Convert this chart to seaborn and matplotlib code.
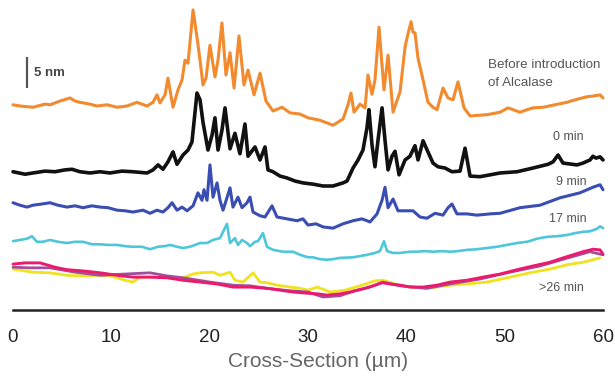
import numpy as np
import pandas as pd
import matplotlib
matplotlib.use("Agg")
import matplotlib.pyplot as plt
import seaborn as sns

# ---------------- data (x in µm, height in nm) ----------------
before_x = [0, 0.71, 2.03, 3.25, 3.76, 4.78, 5.80, 6.31, 6.81, 7.83, 8.54, 9.56, 10.58, 11.59, 12.61,
            13.63, 14.24, 14.64, 14.95, 15.46, 15.76, 16.27, 16.78, 17.19, 17.49, 17.80, 18.31, 18.71,
            19.02, 19.32, 19.63, 20.03, 20.54, 20.85, 21.25, 21.66, 22.07, 22.48, 22.98, 23.49, 23.90,
            24.51, 25.12, 25.73, 26.44, 27.36, 28.17, 29.19, 30.00, 31.22, 32.54, 33.56, 34.07, 34.37,
            34.68, 35.29, 35.80, 36.10, 36.51, 36.81, 37.22, 37.73, 38.14, 38.65, 39.36, 39.87, 40.07,
            40.48, 40.68, 40.88, 41.19, 41.70, 42.20, 42.71, 43.12, 43.73, 44.24, 44.75, 45.25, 45.87,
            46.48, 48.20, 49.53, 50.34, 51.56, 52.27, 52.88, 53.90, 55.12, 56.34, 57.15, 58.37, 58.98,
            59.70, 60.00]
before_y = [33.1, 32.9, 32.7, 33.2, 33.1, 33.7, 34.2, 33.7, 33.5, 33.2, 32.9, 33.1, 32.7, 32.9, 33.5,
            32.9, 33.5, 34.7, 33.4, 34.7, 37.4, 32.7, 35.5, 37.1, 40.3, 39.8, 48.4, 44.0,
            40.3, 36.3, 37.4, 42.7, 37.6, 40.3, 46.3, 37.9, 41.5, 35.8, 44.2, 36.3, 38.7,
            34.7, 38.2, 33.7, 32.1, 32.7, 31.8, 31.6, 31.0, 30.6, 29.8, 30.8, 33.1, 35.0,
            31.9, 33.2, 32.6, 37.9, 34.8, 37.1, 45.6, 35.5, 41.1, 31.9, 35.2, 42.4, 43.9,
            46.5, 44.8, 44.7, 40.6, 37.1, 33.5, 32.7, 32.3, 35.8, 34.2, 33.9, 36.8, 32.6,
            31.3, 31.5, 31.9, 32.6, 31.9, 32.3, 32.6, 32.7, 33.1, 33.5, 33.9, 34.4, 34.5,
            34.7, 34.2]

min0_x = [0, 1.22, 2.03, 3.25, 4.27, 5.29, 6.00, 6.81, 7.83, 8.85, 9.86, 11.08, 12.20, 13.63, 14.24,
          14.75, 15.25, 15.76, 16.27, 16.68, 17.29, 17.80, 18.20, 18.71, 19.02, 19.32, 19.83, 20.24,
          20.54, 20.85, 21.25, 21.56, 22.07, 22.57, 23.08, 23.59, 23.90, 24.61, 25.12, 25.63, 25.93,
          26.44, 27.15, 27.86, 28.68, 29.49, 30.51, 31.53, 32.54, 33.56, 33.97, 34.58, 35.09, 35.59,
          36.00, 36.20, 36.51, 36.81, 37.12, 37.53, 37.83, 38.14, 38.54, 38.85, 39.26, 39.87, 40.37,
          40.88, 41.19, 41.70, 42.20, 42.71, 43.22, 43.93, 44.64, 45.46, 45.97, 46.48, 47.49, 48.51,
          49.53, 51.26, 52.88, 54.41, 54.92, 55.43, 55.93, 57.36, 57.97, 58.68, 58.98, 59.29, 59.70,
          60.00]
min0_y = [22.3, 21.9, 22.1, 22.4, 22.3, 22.6, 22.7, 22.3, 22.1, 22.3, 22.1, 22.4, 22.3, 22.1, 22.6,
          23.4, 22.7, 23.9, 25.5, 23.5, 25.0, 25.8, 27.1, 35.0, 33.9, 30.3, 25.8, 28.2,
          31.0, 25.8, 29.0, 32.6, 26.0, 28.5, 25.2, 30.0, 24.8, 26.3, 24.2, 26.3, 22.6,
          22.3, 21.6, 21.3, 20.8, 20.5, 20.3, 20.0, 20.0, 20.5, 20.8, 22.9, 24.2, 25.8,
          29.4, 32.3, 26.6, 23.1, 27.4, 32.6, 27.4, 22.6, 24.8, 25.6, 21.8, 24.2, 24.8,
          26.5, 24.2, 27.3, 25.5, 23.7, 23.1, 22.9, 22.3, 22.4, 26.1, 21.6, 21.5, 21.8,
          22.1, 22.3, 22.9, 23.5, 23.9, 25.0, 23.7, 23.4, 23.7, 24.2, 24.8, 24.5, 24.7,
          24.2]

min9_x = [0, 0.71, 1.42, 2.03, 2.95, 3.76, 4.58, 5.49, 6.31, 7.12, 8.03, 8.85, 9.66, 10.58, 11.39,
          12.20, 13.22, 13.93, 14.64, 15.25, 15.76, 16.17, 16.68, 17.19, 17.70, 18.31, 18.81, 19.22,
          19.42, 19.73, 20.03, 20.34, 20.75, 21.05, 21.36, 21.76, 22.07, 22.37, 22.88, 23.29, 23.80,
          24.10, 24.41, 25.12, 25.63, 26.34, 26.85, 27.86, 28.88, 29.49, 30.00, 30.81, 31.53, 32.54,
          33.56, 34.58, 35.49, 36.31, 37.02, 37.53, 37.83, 38.14, 38.65, 39.15, 39.87, 40.68, 41.39,
          42.10, 42.92, 43.73, 44.24, 44.64, 45.15, 46.17, 47.19, 48.51, 49.53, 51.56, 53.59, 55.63,
          57.66, 58.98, 59.70, 60.00]
min9_y = [17.3, 16.9, 16.6, 16.9, 17.1, 17.3, 16.9, 16.6, 16.8, 16.5, 16.8, 16.6, 16.5, 16.1, 16.0,
          15.8, 16.1, 15.6, 16.1, 15.8, 16.5, 17.3, 16.1, 16.6, 16.0, 16.8, 18.9, 17.7,
          19.4, 17.7, 23.4, 18.2, 20.5, 17.7, 16.1, 18.1, 19.7, 16.6, 18.2, 16.5, 17.3,
          18.2, 15.8, 15.2, 15.0, 16.8, 15.0, 14.7, 14.4, 14.7, 13.7, 13.9, 13.4, 13.2,
          13.9, 14.4, 14.7, 14.2, 15.5, 17.7, 19.8, 16.5, 17.9, 16.0, 16.0, 16.0, 15.0,
          14.8, 15.6, 15.3, 16.5, 17.1, 15.5, 15.5, 15.3, 15.5, 15.6, 16.5, 16.9, 18.1,
          18.9, 19.8, 20.2, 19.4]

min17_x = [0, 0.71, 1.42, 1.93, 2.44, 3.05, 3.76, 4.58, 5.49, 6.31, 7.12, 8.03, 8.85, 9.66, 10.58,
           11.39, 12.20, 13.12, 13.93, 14.75, 15.46, 15.97, 16.68, 17.29, 18.00, 19.02, 19.73, 20.34,
           21.05, 21.76, 22.07, 22.57, 22.88, 23.29, 23.80, 24.10, 24.61, 24.92, 25.42, 25.83, 26.44,
           27.46, 28.48, 29.19, 30.00, 30.51, 31.22, 31.93, 32.54, 33.25, 34.58, 36.00, 36.81, 37.32,
           37.73, 38.04, 38.65, 39.36, 40.37, 41.08, 41.90, 42.71, 43.63, 44.44, 45.25, 46.17, 47.19,
           48.20, 49.22, 50.24, 51.26, 52.27, 53.29, 54.31, 55.32, 56.34, 57.15, 57.97, 58.68, 59.39,
           59.70, 60.00]
min17_y = [11.1, 11.3, 11.5, 11.9, 11.0, 11.0, 11.3, 11.0, 10.8, 11.0, 11.0, 10.6, 10.6, 10.5, 10.5,
           10.3, 10.2, 10.2, 9.8, 10.2, 10.3, 10.5, 10.2, 10.0, 10.2, 10.8, 10.8, 11.3,
           11.6, 13.9, 10.8, 11.6, 10.5, 11.3, 10.8, 10.3, 11.0, 11.1, 12.4, 10.2, 9.7,
           9.4, 9.4, 8.9, 8.5, 8.5, 8.2, 8.1, 8.2, 8.4, 8.5, 8.9, 9.2, 9.5,
           11.1, 9.5, 9.2, 9.2, 9.4, 9.4, 9.5, 9.4, 9.5, 9.4, 9.5, 9.7, 9.8,
           10.0, 10.2, 10.5, 10.8, 11.0, 11.5, 11.8, 11.9, 12.1, 12.4, 12.6, 12.7, 13.1,
           13.5, 13.2]

late_pink_x = [0, 1.22, 2.75, 4.27, 5.49, 7.12, 8.85, 10.58, 12.20, 13.93, 15.66, 17.29, 19.02, 20.75,
               22.37, 24.10, 25.83, 27.15, 28.48, 30.00, 31.02, 31.93, 33.25, 34.27, 35.80, 36.81,
               37.53, 38.34, 39.36, 40.37, 41.70, 43.12, 44.44, 46.17, 47.80, 49.53, 51.26, 52.88,
               54.61, 55.93, 56.95, 57.97, 58.98, 59.70, 60.00]
late_pink_y = [7.4, 7.6, 7.6, 6.9, 6.5, 6.3, 6.0, 5.6, 5.3, 5.3, 5.2, 4.8, 4.5, 4.2,
               3.7, 3.7, 3.5, 3.2, 2.9, 2.7, 2.6, 2.4, 2.6, 2.9, 3.5, 4.0,
               4.4, 4.2, 4.0, 3.7, 3.7, 4.0, 4.5, 4.8, 5.3, 5.8, 6.5, 7.1,
               7.7, 8.4, 8.9, 9.4, 9.8, 9.7, 9.0]

late_purple_x = [0, 1.73, 3.76, 6.31, 8.85, 11.39, 13.93, 15.66, 17.29, 20.03, 22.37, 24.10, 25.83,
                 28.17, 30.00, 31.53, 33.25, 34.78, 36.31, 37.63, 39.36, 42.10, 44.44, 47.49, 50.54,
                 53.59, 56.65, 58.68, 60.00]
late_purple_y = [6.9, 6.8, 6.8, 6.1, 5.6, 5.8, 6.0, 5.5, 5.2, 4.5, 4.0, 3.9, 3.5,
                 3.1, 2.9, 2.1, 2.3, 3.1, 3.7, 4.5, 3.9, 3.5, 4.2, 5.0, 6.1,
                 7.1, 8.5, 9.4, 8.9]

late_yellow_x = [0, 2.03, 3.76, 5.49, 7.12, 8.85, 9.86, 10.58, 11.39, 12.20, 12.92, 13.93, 15.66,
                 17.29, 18.31, 19.02, 20.34, 21.05, 22.07, 22.57, 23.39, 24.41, 25.12, 25.83, 26.85,
                 28.17, 29.19, 30.00, 30.92, 32.24, 33.76, 35.29, 36.81, 37.63, 38.85, 40.37, 42.10,
                 44.44, 46.17, 48.20, 50.54, 52.57, 54.61, 56.34, 57.97, 59.70]
late_yellow_y = [6.6, 6.1, 6.0, 5.6, 5.5, 5.6, 5.5, 5.2, 4.8, 4.5, 5.3, 5.3, 5.3,
                 5.2, 5.8, 6.0, 6.1, 5.6, 6.1, 4.8, 4.5, 6.0, 4.5, 4.4, 4.0,
                 3.7, 3.5, 3.2, 3.7, 2.9, 3.2, 3.9, 4.7, 4.8, 4.2, 3.7, 3.5,
                 4.0, 4.2, 4.5, 5.3, 6.0, 6.6, 7.3, 7.7, 8.4]

x_ticks = [0, 10, 20, 30, 40, 50, 60]
x_label = "Cross-Section (\u00b5m)"
trace_labels = ["Before introduction", "of Alcalase", "0 min", "9 min", "17 min", ">26 min"]
scale_bar_nm = 5

# ---------------- style ----------------
sns.set_style("white")
plt.rcParams["font.family"] = ["Liberation Sans", "DejaVu Sans"]

fig = plt.figure(figsize=(6.15, 3.76), dpi=100)
ax = fig.add_axes([13 / 615, 66 / 376, 590 / 615, 310 / 376])

series = [
    (late_yellow_x, late_yellow_y, "#f0e21c", 2.0),
    (late_purple_x, late_purple_y, "#a0509a", 2.0),
    (late_pink_x, late_pink_y, "#ec1a6e", 2.1),
    (min17_x, min17_y, "#4fc6da", 1.9),
    (min9_x, min9_y, "#3a4db3", 2.2),
    (min0_x, min0_y, "#111111", 2.6),
    (before_x, before_y, "#f28a2e", 2.2),
]
for xs, ys, col, lw in series:
    df = pd.DataFrame({"x": xs, "y": ys})
    sns.lineplot(data=df, x="x", y="y", ax=ax, color=col, linewidth=lw,
                 sort=False, estimator=None, clip_on=False)

ax.set_xlim(0, 60)
ax.set_ylim(0, 50)
ax.set_xticks(x_ticks)
ax.set_xticklabels([str(t) for t in x_ticks], fontsize=13.5, color="#222222")
ax.set_yticks([])
ax.set_ylabel("")
ax.set_xlabel(x_label, fontsize=15, color="#666666")
ax.xaxis.set_label_coords(0.517, -0.135)
for s in ["top", "right", "left"]:
    ax.spines[s].set_visible(False)
ax.spines["bottom"].set_linewidth(1.8)
ax.spines["bottom"].set_color("#222222")
ax.tick_params(axis="x", direction="out", length=7, width=1.8, color="#222222", pad=7)
ax.set_facecolor("white")
fig.patch.set_facecolor("white")

# scale bar
ax.plot([1.42, 1.42], [35.8, 35.8 + scale_bar_nm], color="#555555", lw=1.6, solid_capstyle="butt")
ax.text(2.1, 38.3, f"{scale_bar_nm} nm", fontsize=9.5, color="#444444", fontweight="bold",
        va="center", ha="left")

lab_col = "#555555"
ax.text(48.3, 39.5, trace_labels[0], fontsize=9.6, color=lab_col, va="center", ha="left")
ax.text(48.3, 36.6, trace_labels[1], fontsize=9.6, color=lab_col, va="center", ha="left")
ax.text(56.5, 27.9, trace_labels[2], fontsize=9, color=lab_col, va="center", ha="center")
ax.text(56.8, 20.7, trace_labels[3], fontsize=9, color=lab_col, va="center", ha="center")
ax.text(56.4, 14.6, trace_labels[4], fontsize=9, color=lab_col, va="center", ha="center")
ax.text(55.8, 3.5, trace_labels[5], fontsize=9, color=lab_col, va="center", ha="center")

fig.savefig("out.png", dpi=100, facecolor="white")
